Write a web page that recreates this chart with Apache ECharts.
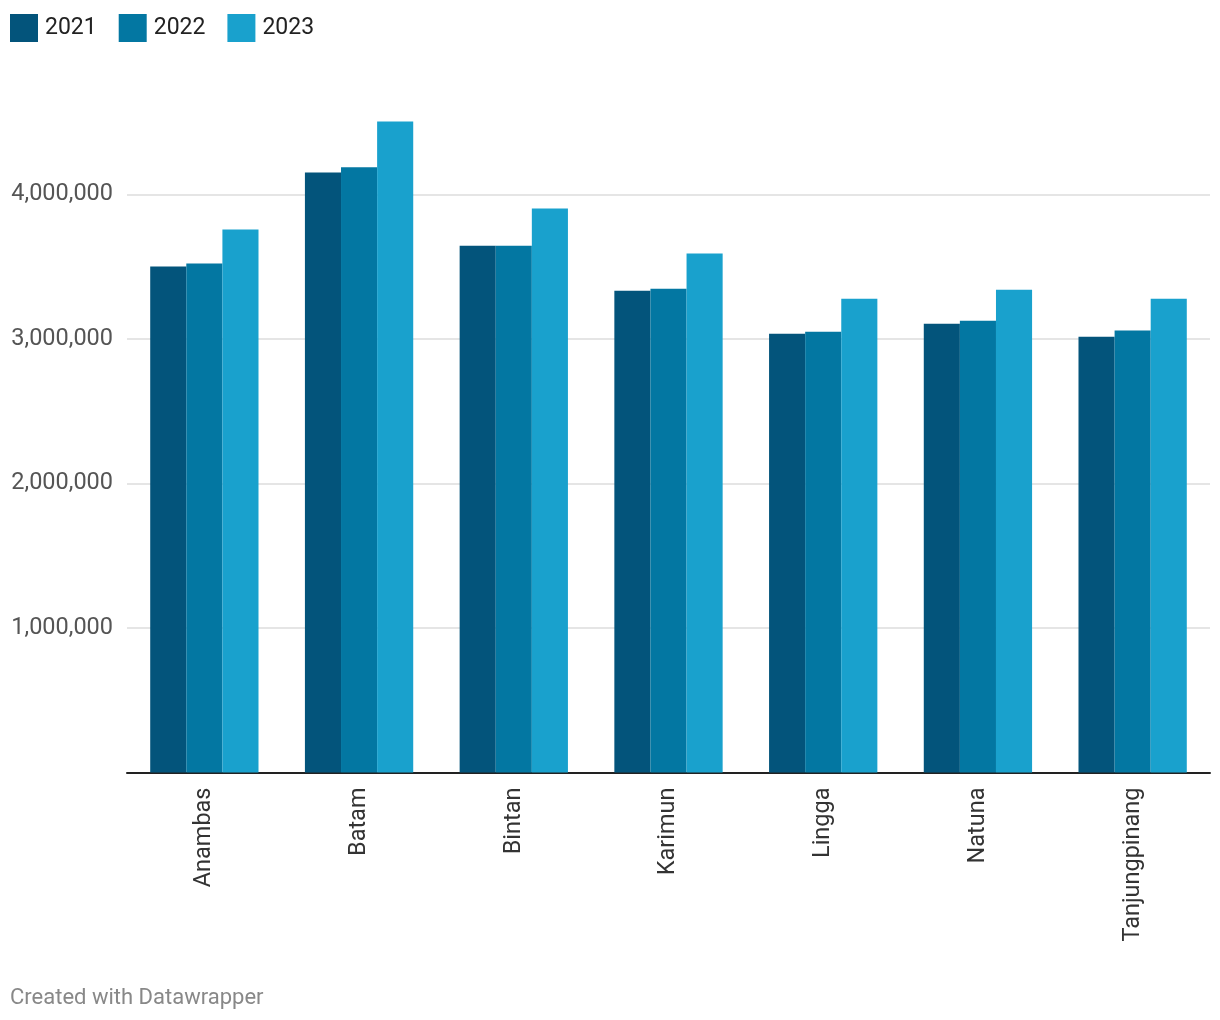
<!DOCTYPE html>
<html>
<head>
<meta charset="utf-8">
<script src="https://cdn.jsdelivr.net/npm/echarts@6/dist/echarts.min.js"></script>
<style>
html,body{margin:0;padding:0;background:#fff;}
#chart{width:1220px;height:1020px;}
</style>
</head>
<body>
<div id="chart"></div>
<script>
const categories = ['Anambas','Batam','Bintan','Karimun','Lingga','Natuna','Tanjungpinang'];
const seriesNames = ['2021','2022','2023'];
const values2021 = [3501000, 4152000, 3646000, 3334000, 3037000, 3106000, 3016000];
const values2022 = [3522000, 4189000, 3646000, 3348000, 3050000, 3127000, 3058000];
const values2023 = [3757000, 4505000, 3903000, 3591000, 3279000, 3341000, 3279000];
const colors = ['#03547b', '#0377a2', '#19a1cd'];

const chart = echarts.init(document.getElementById('chart'));
const fontFamily = 'Roboto';
const allValues = [values2021, values2022, values2023];

chart.setOption({
  animation: false,
  textStyle: { fontFamily: fontFamily },
  legend: {
    left: 5, top: 9,
    icon: 'rect', itemWidth: 28, itemHeight: 28, itemGap: 22,
    textStyle: { fontSize: 23, color: '#222', fontFamily: fontFamily, padding: [0,0,0,2] },
    data: seriesNames
  },
  grid: { left: 127, right: 10, top: 50, bottom: 247.5, containLabel: false },
  xAxis: {
    type: 'category',
    data: categories,
    axisLine: { lineStyle: { color: '#222', width: 2 } },
    axisTick: { show: false },
    axisLabel: { rotate: 90, fontSize: 23.5, color: '#333', margin: 15, fontFamily: fontFamily }
  },
  yAxis: {
    type: 'value',
    min: 0, max: 5000000, interval: 1000000,
    axisLine: { show: false },
    axisTick: { show: false },
    splitLine: { lineStyle: { color: ['#dcdcdc','#dcdcdc','#dcdcdc','#dcdcdc','#dcdcdc','rgba(0,0,0,0)'], width: 1.5 } },
    axisLabel: {
      fontSize: 23.5, color: '#555', margin: 14, fontFamily: fontFamily,
      formatter: function (v) { return (v === 0 || v >= 5000000) ? '' : v.toLocaleString('en-US'); }
    }
  },
  series: seriesNames.map((name, i) => ({
    name: name,
    type: 'bar',
    data: allValues[i],
    itemStyle: { color: colors[i] },
    barGap: '0%',
    barCategoryGap: '30%'
  })),
  color: colors,
  graphic: [{
    type: 'text', left: 10, top: 987,
    style: { text: 'Created with Datawrapper', fontSize: 22, fill: '#888', fontFamily: fontFamily }
  }]
});
</script>
</body>
</html>
